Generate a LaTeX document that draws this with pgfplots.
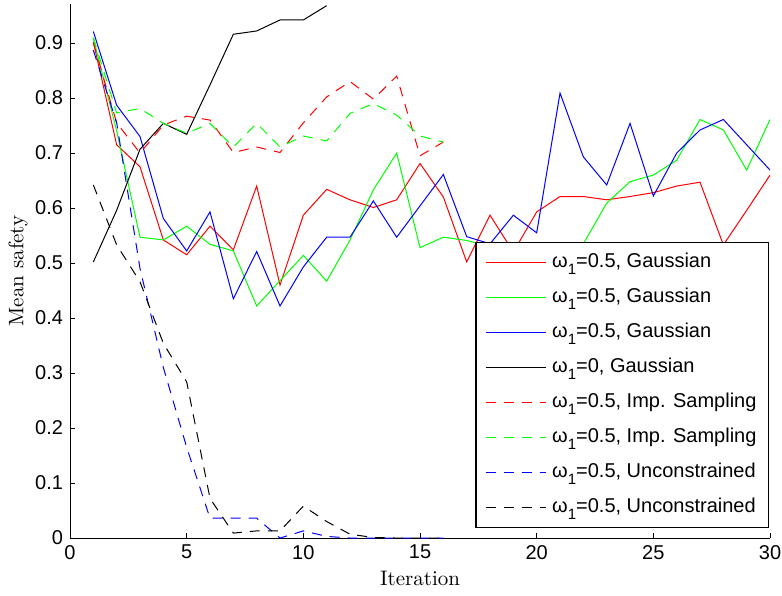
\documentclass[border=0pt]{standalone}
\usepackage{pgfplots}
\pgfplotsset{compat=1.18}
\usepackage{fontspec}
\newfontfamily\helv{Liberation Sans}
\newcommand\om{ω\raisebox{-0.65ex}{\fontsize{7.5}{8}\selectfont 1}}

% one table per group: x, red, green, blue solid (Gaussian)
\pgfplotstableread{
x  r      g      b
1  0.902  0.909  0.921
2  0.715  0.740  0.787
3  0.675  0.547  0.730
4  0.542  0.542  0.581
5  0.515  0.567  0.522
6  0.567  0.534  0.593
7  0.524  0.522  0.435
8  0.640  0.422  0.521
9  0.460  0.468  0.422
10 0.587  0.514  0.493
11 0.634  0.467  0.547
12 0.615  0.542  0.547
13 0.601  0.633  0.613
14 0.615  0.700  0.547
15 0.681  0.528  0.604
16 0.620  0.547  0.661
17 0.502  0.541  0.548
18 0.587  0.530  0.535
19 0.520  0.520  0.587
20 0.593  0.510  0.555
21 0.621  0.520  0.809
22 0.621  0.535  0.693
23 0.615  0.609  0.642
24 0.621  0.648  0.754
25 0.628  0.660  0.622
26 0.640  0.687  0.700
27 0.647  0.761  0.742
28 0.533  0.742  0.761
29 0.596  0.669  0.715
30 0.660  0.761  0.669
}\gauss

\pgfplotstableread{
x  k
1  0.502
2  0.596
3  0.707
4  0.754
5  0.734
6  0.824
7  0.916
8  0.922
9  0.942
10 0.942
11 0.968
}\zero

\pgfplotstableread{
x  r      g
1  0.900  0.910
2  0.755  0.773
3  0.700  0.781
4  0.751  0.754
5  0.767  0.736
6  0.760  0.754
7  0.701  0.711
8  0.711  0.754
9  0.701  0.711
10 0.755  0.731
11 0.802  0.722
12 0.830  0.772
13 0.798  0.790
14 0.840  0.769
15 0.695  0.731
16 0.720  0.720
}\imps

\pgfplotstableread{
x  b      k
1  0.887  0.642
2  0.755  0.533
3  0.490  0.466
4  0.310  0.354
5  0.165  0.284
6  0.036  0.072
7  0.036  0.009
8  0.036  0.013
9  0.000  0.013
10 0.013  0.058
11 0.003  0.030
12 0.000  0.007
13 0.000  0.001
14 0.000  0.000
15 0.000  0.000
16 0.000  0.000
}\uncon

\begin{document}
\begin{tikzpicture}
\begin{axis}[
    width=350pt, height=267pt, scale only axis,
    xmin=0, xmax=30, ymin=0, ymax=0.971,
    axis x line*=bottom, axis y line*=left,
    axis line style={line width=0.5pt},
    tick align=inside, major tick length=2.5pt,
    tick style={line width=0.5pt, black},
    xtick={0,5,10,15,20,25,30},
    ytick={0,0.1,0.2,0.3,0.4,0.5,0.6,0.7,0.8,0.9},
    /pgf/number format/assume math mode=true,
    tick label style={font=\helv\fontsize{10}{12}\selectfont},
    yticklabel style={/pgf/number format/fixed},
    xlabel={Iteration}, ylabel={Mean safety},
    label style={font=\fontsize{10.5}{12}\selectfont},
    xlabel style={at={(axis description cs:0.5,0)}, anchor=base, yshift=-23.5pt},
    ylabel style={at={(axis description cs:-0.074,0.5)}, anchor=center},
    every axis plot/.append style={line width=0.5pt},
    legend cell align=left,
    legend image code/.code={\draw[line width=0.6pt,#1] (0pt,0pt) -- (30pt,0pt);},
    legend style={at={(axis description cs:0.9986,0.0193)}, anchor=south east,
        draw=black, line width=0.6pt, fill=white,
        font=\helv\fontsize{10}{12}\selectfont,
        nodes={inner xsep=1.5pt},
        /tikz/every odd column/.append style={column sep=1.5pt},
        inner xsep=4.5pt, inner ysep=3.6pt, row sep=4.75pt},
]
\addplot[draw=red] table[x=x, y=r] {\gauss};
\addplot[draw=green] table[x=x, y=g] {\gauss};
\addplot[draw=blue] table[x=x, y=b] {\gauss};
\addplot[draw=black] table[x=x, y=k] {\zero};
\addplot[draw=red, dash pattern=on 5pt off 4pt] table[x=x, y=r] {\imps};
\addplot[draw=green, dash pattern=on 5pt off 4pt] table[x=x, y=g] {\imps};
\addplot[draw=blue, dash pattern=on 5pt off 4pt] table[x=x, y=b] {\uncon};
\addplot[draw=black, dash pattern=on 5pt off 4pt] table[x=x, y=k] {\uncon};
\legend{\om=0.5{,} Gaussian, \om=0.5{,} Gaussian, \om=0.5{,} Gaussian,
        \om=0{,} Gaussian, \om=0.5{,} Imp. Sampling, \om=0.5{,} Imp. Sampling,
        \om=0.5{,} Unconstrained, \om=0.5{,} Unconstrained}
\coordinate (bbl) at (axis description cs:-0.1,-0.1067);
\coordinate (btr) at (axis description cs:1.0171,1.0075);
\end{axis}
\pgfresetboundingbox
\path[use as bounding box] (bbl) rectangle (btr);
\end{tikzpicture}
\end{document}
